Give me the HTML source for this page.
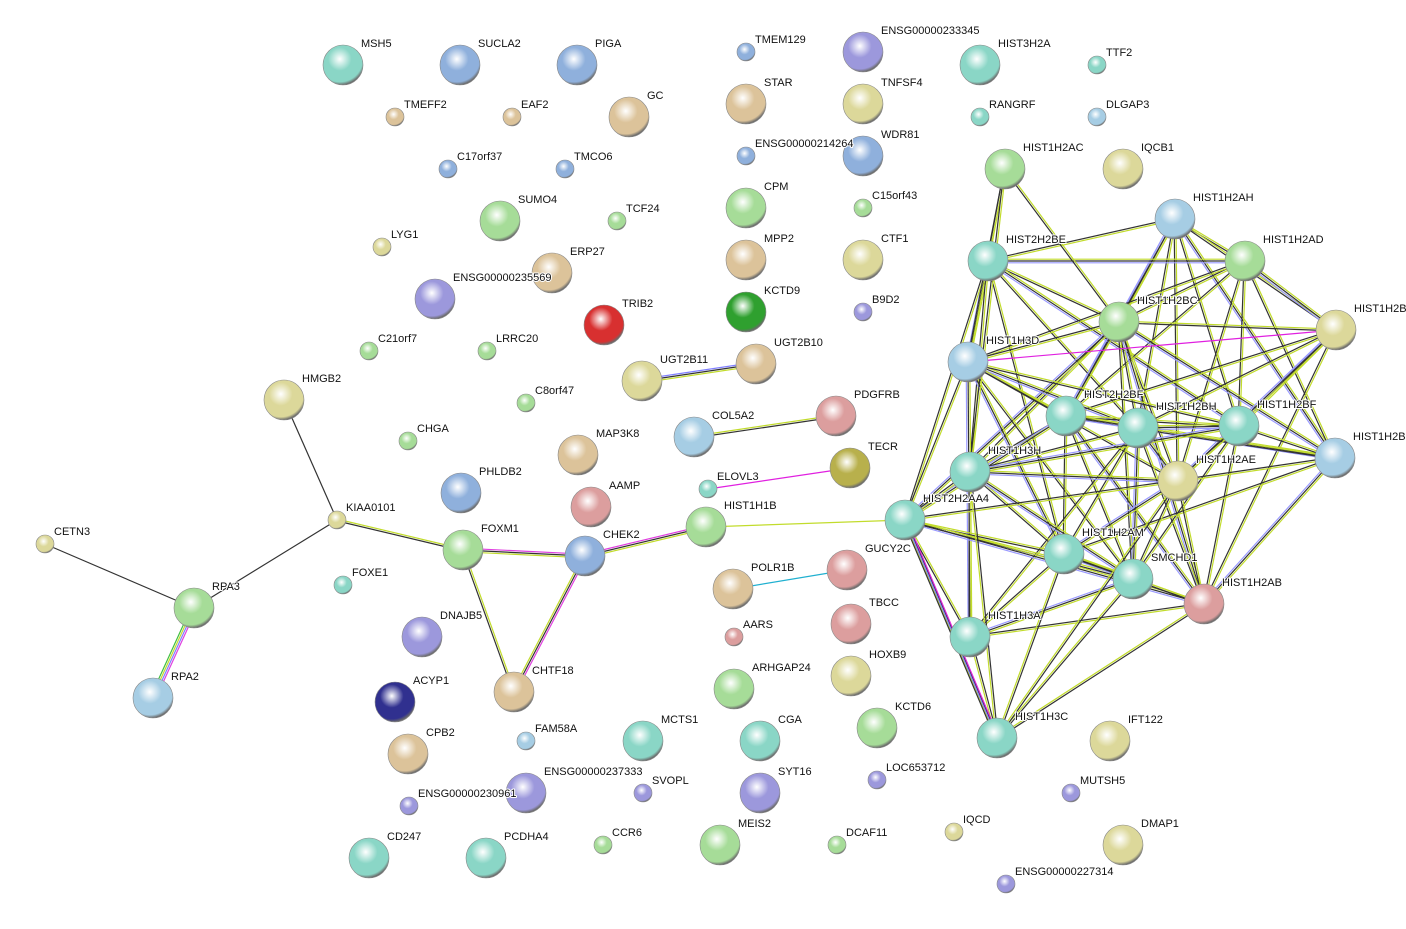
<!DOCTYPE html>
<html><head><meta charset="utf-8"><style>
html,body{margin:0;padding:0;background:#fff;}
svg{display:block;}
text{font-family:"Liberation Sans",sans-serif;font-size:11px;fill:#111;paint-order:stroke;stroke:#fff;stroke-width:2px;stroke-linejoin:round;}
</style></head><body>
<svg id="s" width="1406" height="929" xmlns="http://www.w3.org/2000/svg">
<defs id="d"></defs><g id="e"></g><g id="n"></g><g id="t"></g>
</svg>
<script>
var C={te:'#8ad6c6',bl:'#8fb0dc',lb:'#a6cde4',pu:'#9c98dc',ta:'#dcc39a',kh:'#dcd89a',gr:'#a6dc98',pk:'#dc9e9e',rd:'#d83030',dg:'#2fa02f',nv:'#30308f',ol:'#b8b04c'};
var N={
MSH5:[343,65,20,'te'],SUCLA2:[460,65,20,'bl'],PIGA:[577,65,20,'bl'],TMEM129:[746,52,9,'bl'],ENSG00000233345:[863,52,20,'pu'],HIST3H2A:[980,65,20,'te'],TTF2:[1097,65,9,'te'],
TMEFF2:[395,117,9,'ta'],EAF2:[512,117,9,'ta'],GC:[629,117,20,'ta'],STAR:[746,104,20,'ta'],TNFSF4:[863,104,20,'kh'],RANGRF:[980,117,9,'te'],DLGAP3:[1097,117,9,'lb'],
C17orf37:[448,169,9,'bl'],TMCO6:[565,169,9,'bl'],ENSG00000214264:[746,156,9,'bl'],WDR81:[863,156,20,'bl'],HIST1H2AC:[1005,169,20,'gr'],IQCB1:[1123,169,20,'kh'],
SUMO4:[500,221,20,'gr'],TCF24:[617,221,9,'gr'],CPM:[746,208,20,'gr'],C15orf43:[863,208,9,'gr'],HIST1H2AH:[1175,219,20,'lb'],LYG1:[382,247,9,'kh'],
ERP27:[552,273,20,'ta'],ENSG00000235569:[435,299,20,'pu'],MPP2:[746,260,20,'ta'],CTF1:[863,260,20,'kh'],HIST2H2BE:[988,261,20,'te'],HIST1H2AD:[1245,261,20,'gr'],
TRIB2:[604,325,20,'rd'],KCTD9:[746,312,20,'dg'],B9D2:[863,312,9,'pu'],HIST1H2BC:[1119,322,20,'gr'],'HIST1H2B':[1336,330,20,'kh'],C21orf7:[369,351,9,'gr'],LRRC20:[487,351,9,'gr'],
HIST1H3D:[968,362,20,'lb'],UGT2B11:[642,381,20,'kh'],UGT2B10:[756,364,20,'ta'],HMGB2:[284,400,20,'kh'],C8orf47:[526,403,9,'gr'],PDGFRB:[836,416,20,'pk'],
HIST2H2BF:[1066,416,20,'te'],HIST1H2BH:[1138,428,20,'te'],HIST1H2BF:[1239,426,20,'te'],'HIST1H2B ':[1335,458,20,'lb'],CHGA:[408,441,9,'gr'],COL5A2:[694,437,20,'lb'],
MAP3K8:[578,455,20,'ta'],TECR:[850,468,20,'ol'],HIST1H3H:[970,472,20,'te'],HIST1H2AE:[1178,481,20,'kh'],PHLDB2:[461,493,20,'bl'],ELOVL3:[708,489,9,'te'],AAMP:[591,507,20,'pk'],
KIAA0101:[337,520,9,'kh'],HIST1H1B:[706,527,20,'gr'],HIST2H2AA4:[905,520,20,'te'],FOXM1:[463,550,20,'gr'],CHEK2:[585,556,20,'bl'],CETN3:[45,544,9,'kh'],
GUCY2C:[847,570,20,'pk'],HIST1H2AM:[1064,554,20,'te'],SMCHD1:[1133,579,20,'te'],POLR1B:[733,589,20,'ta'],FOXE1:[343,585,9,'te'],RPA3:[194,608,20,'gr'],HIST1H2AB:[1204,604,20,'pk'],
DNAJB5:[422,637,20,'pu'],AARS:[734,637,9,'pk'],TBCC:[851,624,20,'pk'],HIST1H3A:[970,637,20,'te'],HOXB9:[851,676,20,'kh'],CHTF18:[514,692,20,'ta'],ARHGAP24:[734,689,20,'gr'],
RPA2:[153,698,20,'lb'],ACYP1:[395,702,20,'nv'],KCTD6:[877,728,20,'gr'],FAM58A:[526,741,9,'lb'],MCTS1:[643,741,20,'te'],CGA:[760,741,20,'te'],HIST1H3C:[997,738,20,'te'],
IFT122:[1110,741,20,'kh'],CPB2:[408,754,20,'ta'],ENSG00000237333:[526,793,20,'pu'],SVOPL:[643,793,9,'pu'],SYT16:[760,793,20,'pu'],LOC653712:[877,780,9,'pu'],MUTSH5:[1071,793,9,'pu'],
ENSG00000230961:[409,806,9,'pu'],IQCD:[954,832,9,'kh'],DMAP1:[1123,845,20,'kh'],CD247:[369,858,20,'te'],PCDHA4:[486,858,20,'te'],CCR6:[603,845,9,'gr'],MEIS2:[720,845,20,'gr'],
DCAF11:[837,845,9,'gr'],ENSG00000227314:[1006,884,9,'pu']};
var ns='http://www.w3.org/2000/svg';
function el(t,a,p){var e=document.createElementNS(ns,t);for(var k in a)e.setAttribute(k,a[k]);p.appendChild(e);return e;}
var d=document.getElementById('d'),E=document.getElementById('e'),G=document.getElementById('n'),T=document.getElementById('t');
for(var k in C){var g=el('radialGradient',{id:'g'+k,cx:'0.42',cy:'0.35',r:'0.65'},d);
el('stop',{offset:'0',"stop-color":'#fff'},g);el('stop',{offset:'0.45',"stop-color":C[k]},g);el('stop',{offset:'0.88',"stop-color":C[k]},g);el('stop',{offset:'1',"stop-color":'#6a6a6a'},g);}
function line(a,b,col,off,w){var A=N[a],B=N[b];var dx=B[0]-A[0],dy=B[1]-A[1],L=Math.hypot(dx,dy);var ox=-dy/L*off,oy=dx/L*off;
el('line',{x1:A[0]+ox,y1:A[1]+oy,x2:B[0]+ox,y2:B[1]+oy,stroke:col,'stroke-width':w||1.2},E);}
function multi(a,b,cols){var n=cols.length;for(var i=0;i<n;i++)line(a,b,cols[i],(i-(n-1)/2)*1.8);}
var YG='#c2dc2c',DK='#333';
multi('HMGB2','KIAA0101',[DK]);multi('KIAA0101','RPA3',[DK]);multi('CETN3','RPA3',[DK]);
multi('KIAA0101','FOXM1',[YG,DK]);multi('RPA3','RPA2',['#e040e0','#8080ff',YG,'#40c040']);
multi('FOXM1','CHEK2',['#e040e0',DK,YG]);multi('FOXM1','CHTF18',[YG,DK]);multi('CHEK2','CHTF18',['#e040e0',DK,YG]);
multi('CHEK2','HIST1H1B',['#e040e0',DK,YG]);multi('HIST1H1B','HIST2H2AA4',[YG]);
multi('UGT2B11','UGT2B10',['#8080ff',DK,YG]);multi('COL5A2','PDGFRB',[YG,DK]);multi('ELOVL3','TECR',['#e020e0']);multi('POLR1B','GUCY2C',['#20b0d0']);
var H=['HIST1H2AH','HIST2H2BE','HIST1H2AD','HIST1H2BC','HIST1H2B','HIST1H3D','HIST2H2BF','HIST1H2BH','HIST1H2BF','HIST1H2B ','HIST1H3H','HIST1H2AE','HIST2H2AA4','HIST1H2AM','SMCHD1','HIST1H2AB','HIST1H3A'];
for(var i=0;i<H.length;i++)for(var j=i+1;j<H.length;j++){var a=H[i],b=H[j];
var A=N[a],B=N[b];if(Math.hypot(A[0]-B[0],A[1]-B[1])>330)continue;
if(((i*7+j*3)%5)==0)continue;
multi(a,b,(i+j)%3==0?[YG,DK,'#9a9aff']:[YG,DK]);}
['HIST2H2BE','HIST1H3D','HIST1H2BC','HIST1H3H'].forEach(function(b){multi('HIST1H2AC',b,[YG,DK]);});
['HIST1H3A','HIST2H2AA4','HIST1H2AM','SMCHD1','HIST1H2AE','HIST1H3H','HIST1H2AB'].forEach(function(b){multi('HIST1H3C',b,[YG,DK]);});
multi('HIST1H3D','HIST1H2B',['#e020e0']);multi('HIST2H2AA4','HIST1H3C',['#e020e0','#8080ff',DK]);
for(var k in N){var v=N[k];el('circle',{cx:v[0],cy:v[1],r:v[2],fill:'url(#g'+v[3]+')',stroke:'#8a8a8a','stroke-width':0.6},G);
var t=el('text',{x:v[0]+(v[2]>10?18:9),y:v[1]-(v[2]>10?18:9)},T);t.textContent=k.trim();}
</script>
</body></html>
